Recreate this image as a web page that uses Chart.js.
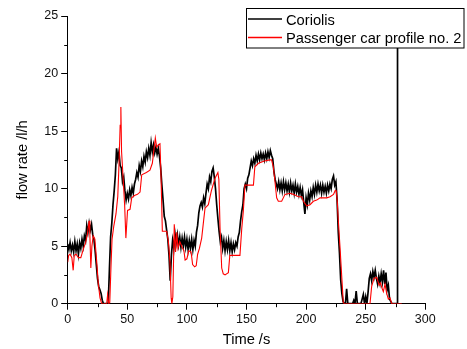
<!DOCTYPE html>
<html><head><meta charset="utf-8">
<script src="https://cdn.jsdelivr.net/npm/chart.js@4.4.1/dist/chart.umd.min.js"></script>
<style>html,body{margin:0;padding:0;background:#fff;}canvas{display:block;}</style>
</head><body>
<canvas id="c" width="467" height="349"></canvas>
<script>
const seriesNames = ['Coriolis', 'Passenger car profile no. 2'];
const xTicks = [0, 50, 100, 150, 200, 250, 300];
const yTicks = [0, 5, 10, 15, 20, 25];
const xMinorTicks = [25, 75, 125, 175, 225, 275];
const yMinorTicks = [2.5, 7.5, 12.5, 17.5, 22.5];

const coriolisTime = [
  0,1,2,3,4,5,6,7,8,9,
  10,11,12,13,14,15,16,17,18,19,
  20,21,22,23,24,25,26,27,28,29,
  30,31,32,33,34,35,36,37,38,39,
  40,41,42,43,44,45,46,47,48,49,
  50,51,52,53,54,55,56,57,58,59,
  60,61,62,63,64,65,66,67,68,69,
  70,71,72,73,74,75,76,77,78,79,
  80,81,82,83,84,85,86,87,88,89,
  90,91,92,93,94,95,96,97,98,99,
  100,101,102,103,104,105,106,107,108,109,
  110,111,112,113,114,115,116,117,118,119,
  120,121,122,123,124,125,126,127,128,129,
  130,131,132,133,134,135,136,137,138,139,
  140,141,142,143,144,145,146,147,148,149,
  150,151,152,153,154,155,156,157,158,159,
  160,161,162,163,164,165,166,167,168,169,
  170,171,172,173,174,175,176,177,178,179,
  180,181,182,183,184,185,186,187,188,189,
  190,191,192,193,194,195,196,197,198,199,
  200,201,202,203,204,205,206,207,208,209,
  210,211,212,213,214,215,216,217,218,219,
  220,221,222,223,224,225,226,227,228,229,
  230,231,232,233,234,235,236,237,238,239,
  240,241,242,243,244,245,246,247,248,249,
  250,251,252,253,254,255,256,257,258,259,
  260,261,262,263,264,265,266,267,268,269,
  270,271,272,273,274,275,276.4,276.5,276.6,277
];
const coriolisFlow = [
  5.2,4.7,5.3,4.6,5.1,4.5,5.4,4.6,5.2,4.3,
  5.3,4.8,5.6,5.0,5.9,5.5,6.8,6.2,7.0,6.4,
  6.9,6.0,5.6,4.6,3.4,2.2,1.5,1.2,0.9,0.3,
  0,0,0,0,0,3.0,5.8,7.0,8.6,9.8,
  11.2,13.5,12.6,13.2,12.0,11.8,10.6,11.0,9.8,9.0,
  9.6,9.1,9.9,9.4,10.1,9.6,10.4,10.8,11.4,11.0,
  12.0,11.5,12.4,11.9,12.8,12.3,13.2,12.7,13.5,12.9,
  14.0,13.2,13.8,13.1,13.6,13.0,13.5,12.8,11.8,10.3,
  9.0,7.6,7.2,6.4,5.6,4.2,2.0,4.2,5.5,4.8,
  6.1,5.3,6.0,5.1,5.8,4.9,5.7,5.0,5.8,4.9,
  5.6,4.7,5.5,4.8,5.6,4.7,5.5,5.0,6.2,6.8,
  7.9,8.5,8.8,8.4,9.2,8.7,9.6,10.4,10.0,11.0,
  10.6,11.5,11.8,11.0,10.0,8.6,7.4,6.3,5.4,5.8,
  4.8,5.5,4.6,5.4,4.7,5.5,4.6,5.3,4.5,5.2,
  4.7,5.3,5.0,5.8,6.2,7.2,8.0,8.6,10.0,10.4,
  10.0,10.9,11.2,11.8,12.4,12.0,12.6,12.2,12.9,12.4,
  13.0,12.5,13.1,12.6,13.0,12.5,13.1,12.6,13.2,12.7,
  13.3,12.9,12.6,11.5,10.8,10.4,10.0,10.6,9.9,10.5,
  9.8,10.6,9.9,10.5,9.8,10.4,9.7,10.5,9.8,10.3,
  9.6,10.4,9.7,10.2,9.5,10.1,9.4,9.9,8.8,7.8,
  9.2,8.6,9.6,9.0,9.8,9.3,10.1,9.5,10.3,9.7,
  10.4,9.8,10.3,9.6,10.3,9.7,10.2,9.6,10.3,9.8,
  10.4,10.0,10.8,11.1,10.3,10.6,9.0,6.2,4.4,2.1,
  0.9,0.2,0,0,1.3,0,0,0,0,0,
  0.3,0,1.1,0,0,0,0,0.4,0.8,0,
  0.6,0,1.0,2.2,2.6,2.0,2.8,2.3,2.9,2.2,
  1.7,2.4,1.8,2.6,1.9,2.9,1.7,2.7,1.2,1.6,
  0.4,0.2,0,0,0,0,0,25,0,0
];

const profileTime = [
  0,0.8,2,3.5,4.6,5.5,7,9,11,13,15,16.5,17.9,18.6,19.4,20.3,21.4,22.8,24.3,25.7,
  27.1,28.5,32.7,33.5,34.4,35.3,36.3,37.2,38.6,40.5,42,43,44,44.6,45.2,46.5,47.8,48.8,50.2,52.3,
  53.7,56,58.5,60.7,62.1,66,69,71,72.5,73.5,74.6,76,77.4,78.3,79.4,83,84.5,85.8,86.8,87.4,
  88.2,89.4,90.5,91.5,92.5,94,96,97.5,98.5,100,101.5,103.5,104.8,106.5,107.8,109,110.5,112.4,114,115.2,
  118,120.5,123.6,126,126.8,127.8,129.2,130.5,132,134.8,136,140,144.5,146,147.3,148.7,155.8,157,160,165,
  169.7,171,172.5,173.9,175.3,176.7,179.5,182.3,186.5,189.3,193.5,196.3,197.7,200.5,203.3,206.1,208.9,211.7,217.3,220.1,
  223,224.5,225.3,226.2,227,228.4,229.9,231.2,232,253.6,255,257,259.2,260.4,261.3,262.5,263.5,264.8,266.2,267.6,
  269,270.4,271.8,280.2
];
const profileFlow = [
  3.6,4.2,4.3,4.0,2.9,4.2,4.3,4.0,4.0,4.7,5.3,6.0,7.2,6.0,3.1,5.0,5.9,5.6,3.7,1.7,
  0.5,0,0,0.8,0,0.1,3.2,5.6,6.7,7.8,9.3,12.0,15.5,17.1,13.2,10.9,8.5,5.7,8.1,8.2,
  9.2,9.4,9.5,9.7,11.2,11.4,11.6,12.2,13.5,14.4,13.6,13.8,13.9,11.0,6.3,6.3,5.4,3.6,0.5,0,
  0.6,6.9,4.5,6.2,4.8,5.4,4.9,4.6,3.8,3.9,4.6,4.5,3.4,3.2,3.3,4.3,4.8,5.7,7.2,8.3,
  8.6,9.8,10.9,11.4,10.8,6.6,3.1,2.6,2.5,2.7,4.2,4.2,4.2,6.5,8.0,10.3,10.3,11.9,12.2,12.4,
  12.5,12.5,11.9,10.6,9.2,8.9,8.9,9.5,9.6,9.5,9.3,9.3,8.9,8.5,8.6,8.9,9.0,9.2,9.2,9.3,
  9.5,9.85,9.8,8.8,7.3,5.0,2.35,0.1,0,0,1.5,2.2,2.3,1.9,1.6,1.8,1.4,1.05,1.7,0.9,
  0.4,0.5,0,0
];

const toPoints = (xs, ys) => xs.map((x, i) => ({x: x, y: ys[i]}));
const FONT = "'Liberation Sans', Arial, sans-serif";

const minorTicksPlugin = {
  id: 'minorTicks',
  afterDraw(chart) {
    const ctx = chart.ctx, xs = chart.scales.x, ys = chart.scales.y;
    ctx.save();
    ctx.strokeStyle = '#000';
    ctx.lineWidth = 1;
    xMinorTicks.forEach(v => {
      const px = Math.round(xs.getPixelForValue(v)) + 0.5;
      ctx.beginPath(); ctx.moveTo(px, ys.bottom); ctx.lineTo(px, ys.bottom + 3.5); ctx.stroke();
    });
    yMinorTicks.forEach(v => {
      const py = Math.round(ys.getPixelForValue(v)) + 0.5;
      ctx.beginPath(); ctx.moveTo(xs.left, py); ctx.lineTo(xs.left - 3.5, py); ctx.stroke();
    });
    ctx.restore();
  }
};

const legendPlugin = {
  id: 'boxLegend',
  afterDraw(chart) {
    const ctx = chart.ctx;
    const ds = chart.data.datasets;
    ctx.save();
    ctx.fillStyle = '#fff';
    ctx.fillRect(246, 8, 218, 40);
    ctx.strokeStyle = '#000';
    ctx.lineWidth = 1;
    ctx.strokeRect(246.5, 8.5, 217.5, 39.5);
    const rows = [{y: 19, base: 24.6}, {y: 37.5, base: 43}];
    ds.forEach((d, i) => {
      ctx.strokeStyle = d.borderColor;
      ctx.lineWidth = 1.3;
      ctx.beginPath(); ctx.moveTo(248, rows[i].y); ctx.lineTo(282, rows[i].y); ctx.stroke();
      ctx.fillStyle = '#000';
      ctx.font = '14.7px ' + FONT;
      ctx.textBaseline = 'alphabetic';
      ctx.textAlign = 'left';
      ctx.fillText(d.label, 286, rows[i].base);
    });
    ctx.restore();
  }
};

new Chart(document.getElementById('c'), {
  type: 'line',
  data: {
    datasets: [
      {label: seriesNames[0], data: toPoints(coriolisTime, coriolisFlow), borderColor: '#000000', borderWidth: 1.7, pointRadius: 0, tension: 0, order: 2},
      {label: seriesNames[1], data: toPoints(profileTime, profileFlow), borderColor: '#ff0000', borderWidth: 1.1, pointRadius: 0, tension: 0, order: 1}
    ]
  },
  options: {
    responsive: false,
    animation: false,
    devicePixelRatio: 1,
    layout: {padding: {left: 0, right: 41.7, top: 16, bottom: 0}},
    plugins: {legend: {display: false}, tooltip: {enabled: false}},
    scales: {
      x: {
        type: 'linear', min: 0, max: 300,
        afterBuildTicks: s => { s.ticks = xTicks.map(v => ({value: v})); },
        afterFit: s => { s.height = 45.3; },
        ticks: {color: '#111', font: {family: FONT, size: 12.5}, padding: 2, maxRotation: 0},
        grid: {display: true, drawOnChartArea: false, drawTicks: true, tickLength: 6, tickColor: '#000', tickWidth: 1},
        border: {display: true, color: '#000', width: 1},
        title: {display: true, text: 'Time /s', color: '#000', font: {family: FONT, size: 14.7}, padding: {top: 0, bottom: 0}}
      },
      y: {
        type: 'linear', min: 0, max: 25,
        afterBuildTicks: s => { s.ticks = yTicks.map(v => ({value: v})); },
        afterFit: s => { s.width = 67.7; },
        ticks: {color: '#111', font: {family: FONT, size: 12.5}, padding: 3},
        grid: {display: true, drawOnChartArea: false, drawTicks: true, tickLength: 6.5, tickColor: '#000', tickWidth: 1},
        border: {display: true, color: '#000', width: 1},
        title: {display: true, text: 'flow rate /l/h', color: '#000', font: {family: FONT, size: 14.7}, padding: {top: 14.5, bottom: 0}}
      }
    }
  },
  plugins: [minorTicksPlugin, legendPlugin]
});
</script>
</body></html>
